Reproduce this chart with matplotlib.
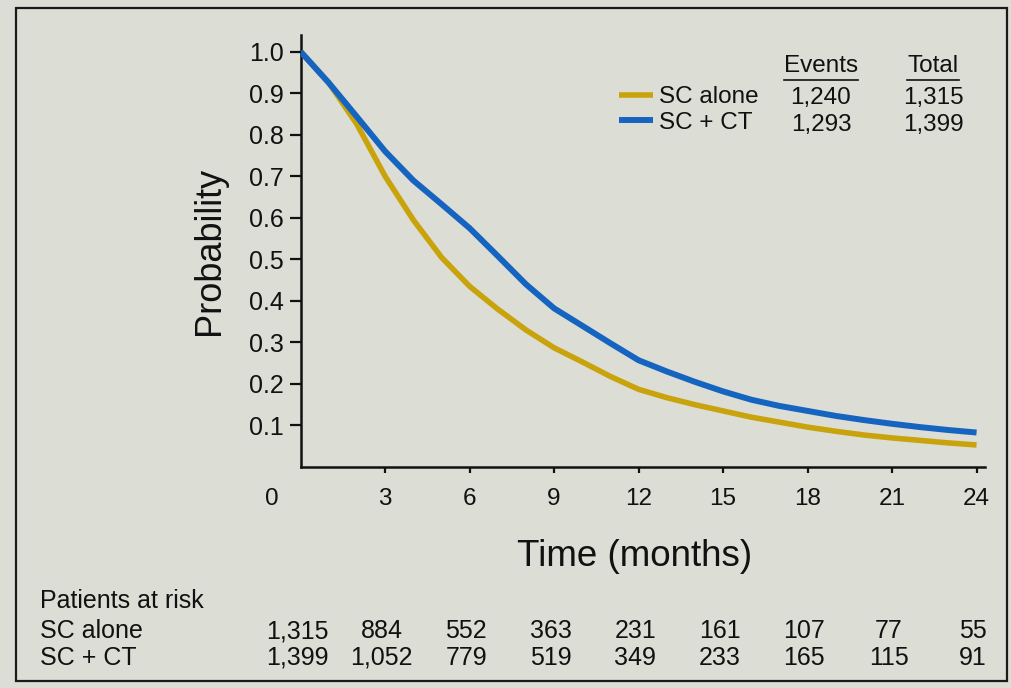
import matplotlib
matplotlib.use("Agg")
import matplotlib.pyplot as plt
from matplotlib.patches import Rectangle
from matplotlib.lines import Line2D
from matplotlib.transforms import ScaledTranslation, blended_transform_factory

# ---------------- data ----------------
months = [0, 1, 2, 3, 4, 5, 6, 7, 8, 9, 10, 11, 12,
          13, 14, 15, 16, 17, 18, 19, 20, 21, 22, 23, 24]
sc_alone = [1.0, 0.925, 0.825, 0.70, 0.595, 0.505, 0.435, 0.38, 0.33, 0.287, 0.253, 0.218, 0.187,
            0.167, 0.15, 0.135, 0.12, 0.108, 0.096, 0.086, 0.077, 0.07, 0.064, 0.058, 0.053]
sc_ct = [1.0, 0.925, 0.843, 0.76, 0.69, 0.633, 0.575, 0.508, 0.44, 0.382, 0.34, 0.298, 0.257,
         0.23, 0.205, 0.182, 0.162, 0.147, 0.135, 0.123, 0.113, 0.104, 0.096, 0.089, 0.083]

series_labels = ["SC alone", "SC + CT"]
events = ["1,240", "1,293"]
totals = ["1,315", "1,399"]

x_ticks = [0, 3, 6, 9, 12, 15, 18, 21, 24]
y_ticks = [0.1, 0.2, 0.3, 0.4, 0.5, 0.6, 0.7, 0.8, 0.9, 1.0]

risk_times = [0, 3, 6, 9, 12, 15, 18, 21, 24]
risk_sc_alone = ["1,315", "884", "552", "363", "231", "161", "107", "77", "55"]
risk_sc_ct = ["1,399", "1,052", "779", "519", "349", "233", "165", "115", "91"]

# ---------------- style ----------------
W, H = 1012, 688
BG = "#dcddd5"
GOLD = "#c9a30c"
BLUE = "#1565c0"
INK = "#111111"
FONT = ["Liberation Sans", "DejaVu Sans"]
plt.rcParams["font.family"] = FONT

fig = plt.figure(figsize=(W / 100, H / 100), dpi=100)
fig.patch.set_facecolor(BG)

# outer frame
fig.patches.append(Rectangle((16 / W, 7 / H), (1007 - 16) / W, (680 - 7) / H,
                             transform=fig.transFigure, fill=False,
                             edgecolor="#1a1a1a", linewidth=1.6))

ax = fig.add_axes([300.6 / W, (H - 467) / H, (985 - 300.6) / W, (467 - 35) / H])
ax.set_facecolor(BG)
ax.set_xlim(0, 24.3)
ax.set_ylim(0, 1.04)

l1, = ax.plot(months, sc_alone, color=GOLD, lw=4.0, solid_capstyle="butt",
              solid_joinstyle="round", zorder=3)
l2, = ax.plot(months, sc_ct, color=BLUE, lw=4.3, solid_capstyle="butt",
              solid_joinstyle="round", zorder=4)

for s in ["top", "right"]:
    ax.spines[s].set_visible(False)
for s in ["left", "bottom"]:
    ax.spines[s].set_linewidth(1.8)
    ax.spines[s].set_color(INK)

ax.set_yticks(y_ticks)
ax.set_yticklabels([f"{v:.1f}" for v in y_ticks])
ax.set_xticks(x_ticks)
ax.set_xticklabels([str(v) for v in x_ticks])
ax.tick_params(axis="y", length=8, width=1.6, pad=4, labelsize=18, colors=INK)
ax.tick_params(axis="x", length=4, width=1.6, pad=11, labelsize=17.5, colors=INK)
# the "0" label sits left of the axis origin and has no tick mark
ax.xaxis.get_major_ticks()[0].tick1line.set_visible(False)
lab0 = ax.get_xticklabels()[0]
lab0.set_transform(lab0.get_transform() + ScaledTranslation(-0.29, 0, fig.dpi_scale_trans))

ax.set_ylabel("Probability", fontsize=26, labelpad=16, color=INK)
fig.text(635 / W, 1 - 556 / H, "Time (months)", fontsize=26.5, ha="center", va="center",
         color=INK)

# legend
leg = ax.legend([l1, l2], series_labels, loc="upper left",
                bbox_to_anchor=(619 / W, 1 - 86 / H), bbox_transform=fig.transFigure,
                frameon=False, fontsize=17.5, handlelength=1.4, handletextpad=0.25,
                labelspacing=0.16, borderpad=0, borderaxespad=0)
for t in leg.get_texts():
    t.set_color(INK)

headers = [fig.text(821 / W, 1 - 72 / H, "Events", fontsize=17.5, ha="center",
                    va="baseline", color=INK),
           fig.text(933 / W, 1 - 72 / H, "Total", fontsize=17.5, ha="center",
                    va="baseline", color=INK)]
for i in range(2):
    yy = 1 - (104 + 27 * i) / H
    fig.text(821 / W, yy, events[i], fontsize=17.5, ha="center", va="baseline", color=INK)
    fig.text(933 / W, yy, totals[i], fontsize=17.5, ha="center", va="baseline", color=INK)

# patients at risk table
TS = 18
fig.text(40 / W, 1 - 608 / H, "Patients at risk", fontsize=TS, ha="left", va="baseline",
         color=INK)
fig.text(40 / W, 1 - 638 / H, series_labels[0], fontsize=TS, ha="left", va="baseline",
         color=INK)
fig.text(40 / W, 1 - 665 / H, series_labels[1], fontsize=TS, ha="left", va="baseline",
         color=INK)
bt = blended_transform_factory(ax.transData, fig.transFigure)
for t, a, b in zip(risk_times, risk_sc_alone, risk_sc_ct):
    ax.text(t - 0.12, 1 - 638 / H, a, transform=bt, fontsize=TS, ha="center", va="baseline",
            color=INK, clip_on=False)
    ax.text(t - 0.12, 1 - 665 / H, b, transform=bt, fontsize=TS, ha="center", va="baseline",
            color=INK, clip_on=False)

# underline the column headers
fig.canvas.draw()
r = fig.canvas.get_renderer()
for h in headers:
    bb = h.get_window_extent(r)
    y = bb.y0 - 2.5
    fig.add_artist(Line2D([bb.x0 / W, bb.x1 / W], [y / H, y / H],
                          transform=fig.transFigure, color=INK, lw=1.2))

fig.savefig("out.png", dpi=100, facecolor=BG)
